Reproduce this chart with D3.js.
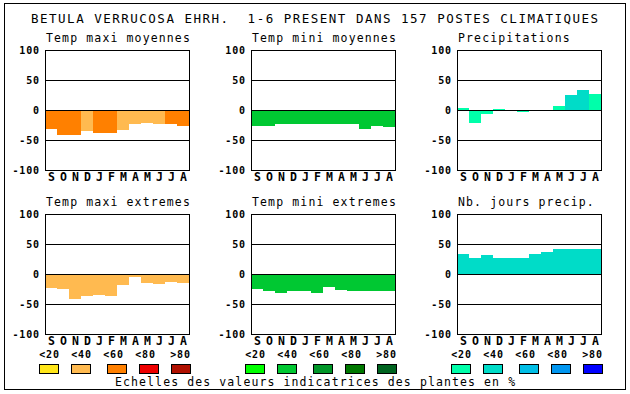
<!DOCTYPE html>
<html><head><meta charset="utf-8">
<script src="https://cdn.jsdelivr.net/npm/d3@7"></script>
<style>body{margin:0;background:#fff}svg{display:block}text{white-space:pre}</style>
</head><body>
<script>
const months = ["S","O","N","D","J","F","M","A","M","J","J","A"];
const yTicks = [100, 50, 0, -50, -100];
const legendLabels = ["<20","<40","<60","<80",">80"];

const tmaxMoy      = [-32,-41,-41,-35,-38,-38,-33,-23,-21,-23,-24,-26];
const tmaxMoyClass = [2,2,2,1,2,2,1,1,1,1,2,2];
const tminMoy      = [-26,-26,-24,-24,-24,-23,-23,-24,-23,-31,-26,-28];
const tminMoyClass = [1,1,1,1,1,1,1,1,1,1,1,1];
const precip       = [4,-21,-6,2,0,-3,0,0,7,25,34,27];
const precipClass  = [0,0,0,0,0,0,0,0,0,1,1,0];
const tmaxExt      = [-23,-25,-41,-37,-35,-37,-18,-5,-15,-17,-13,-15];
const tmaxExtClass = [1,1,1,1,1,1,1,1,1,1,1,1];
const tminExt      = [-25,-28,-32,-28,-28,-32,-22,-27,-28,-28,-28,-28];
const tminExtClass = [1,1,1,1,1,1,1,1,1,1,1,1];
const nbJours      = [34,27,31,27,27,27,34,36,41,41,42,42];
const nbJoursClass = [1,1,1,1,1,1,1,1,1,1,1,1];

const orangePal = ["#FFE619","#FFBA50","#FF8000","#EE0000","#B01000"];
const greenPal  = ["#00FF00","#00C832","#009628","#007800","#006420"];
const bluePal   = ["#00FFAA","#00DCC8","#00BEE6","#0096F0","#0000FF"];

const title = "BETULA VERRUCOSA EHRH.  1-6 PRESENT DANS 157 POSTES CLIMATIQUES";
const footer = "Echelles des valeurs indicatrices des plantes en %";

const panels = [
  {name:"Temp maxi moyennes", values:tmaxMoy, cls:tmaxMoyClass, pal:orangePal, col:0, row:0},
  {name:"Temp mini moyennes", values:tminMoy, cls:tminMoyClass, pal:greenPal,  col:1, row:0},
  {name:"Precipitations",     values:precip,  cls:precipClass,  pal:bluePal,   col:2, row:0},
  {name:"Temp maxi extremes", values:tmaxExt, cls:tmaxExtClass, pal:orangePal, col:0, row:1},
  {name:"Temp mini extremes", values:tminExt, cls:tminExtClass, pal:greenPal,  col:1, row:1},
  {name:"Nb. jours precip.",  values:nbJours, cls:nbJoursClass, pal:bluePal,   col:2, row:1}
];
const legendPals = [orangePal, greenPal, bluePal];

const W = 630, H = 394;
const svg = d3.select("body").append("svg").attr("width", W).attr("height", H);
const mono = "'DejaVu Sans Mono', 'Liberation Mono', monospace";

svg.append("rect").attr("x",4.5).attr("y",3.5).attr("width",621).attr("height",386)
  .attr("fill","none").attr("stroke","#000").attr("stroke-width",1);

svg.append("text").attr("x",31).attr("y",22.5).attr("xml:space","preserve").text(title)
  .attr("font-family",mono).attr("font-size",12.5).attr("letter-spacing",1.5).attr("fill","#000");

const colX = [45, 251, 457];
const rowY = [50, 214];
const boxW = 144, boxH = 120;

panels.forEach(p => {
  const x0 = colX[p.col], y0 = rowY[p.row];
  const g = svg.append("g");
  const x = d3.scaleBand().domain(d3.range(12)).range([x0, x0 + boxW]).padding(0);
  const y = d3.scaleLinear().domain([-100, 100]).range([y0 + boxH, y0]);

  g.append("text").attr("x", x0 + 1).attr("y", y0 - 8.5).text(p.name)
    .attr("font-family",mono).attr("font-size",11.5).attr("letter-spacing",1.13).attr("fill","#000");

  g.selectAll("rect.bar").data(p.values).enter().append("rect").attr("class","bar")
    .attr("x",(d,i)=>x(i)).attr("width",x.bandwidth())
    .attr("y",d=>y(Math.max(0,d))).attr("height",d=>Math.abs(y(d)-y(0)))
    .attr("fill",(d,i)=>p.pal[p.cls[i]]).attr("shape-rendering","crispEdges");

  g.selectAll("line.grid").data([50,0,-50]).enter().append("line")
    .attr("x1",x0).attr("x2",x0+boxW).attr("y1",d=>Math.round(y(d))+0.5).attr("y2",d=>Math.round(y(d))+0.5)
    .attr("stroke","#000").attr("stroke-width",1);

  g.append("rect").attr("x",x0+0.5).attr("y",y0+0.5).attr("width",boxW).attr("height",boxH)
    .attr("fill","none").attr("stroke","#000").attr("stroke-width",1);

  g.selectAll("text.yt").data(yTicks).enter().append("text").attr("class","yt")
    .attr("x", x0 - 5.2).attr("y", d => y(d) + 3.6).attr("text-anchor","end").text(d=>d)
    .attr("font-family",mono).attr("font-weight","bold").attr("font-size",10).attr("letter-spacing",0.8).attr("fill","#000");

  g.selectAll("text.mo").data(months).enter().append("text").attr("class","mo")
    .attr("x",(d,i)=>x(i)+x.bandwidth()/2+0.5).attr("y", y0 + boxH + 11).attr("text-anchor","middle").text(d=>d)
    .attr("font-family",mono).attr("font-weight","bold").attr("font-size",11.5).attr("fill","#000");
});

const textOff = [0,32,64,96,131];
const swOff = [0,32,68,100,132];
legendPals.forEach((pal, k) => {
  const lx = 39 + 206*k;
  const g = svg.append("g");
  g.selectAll("text").data(legendLabels).enter().append("text")
    .attr("x",(d,i)=>lx + textOff[i] + 0.3).attr("y",357.7).text(d=>d)
    .attr("font-family",mono).attr("font-weight","bold").attr("font-size",10).attr("letter-spacing",0.8).attr("fill","#000");
  g.selectAll("rect").data(pal).enter().append("rect")
    .attr("x",(d,i)=>lx + swOff[i] + 0.5).attr("y",364.5).attr("width",19).attr("height",9)
    .attr("fill",d=>d).attr("stroke","#000").attr("stroke-width",1);
});

svg.append("text").attr("x",115).attr("y",385.5).text(footer)
  .attr("font-family",mono).attr("font-size",11.5).attr("letter-spacing",1.1).attr("fill","#000");
</script>
</body></html>
